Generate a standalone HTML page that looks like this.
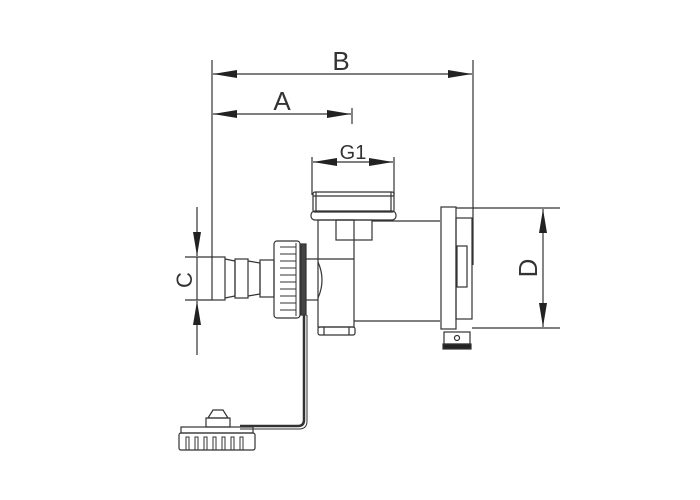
<!DOCTYPE html>
<html><head><style>html,body{margin:0;padding:0;background:#fff;width:700px;height:500px;overflow:hidden}</style></head>
<body>
<svg width="700" height="500" viewBox="0 0 700 500" xmlns="http://www.w3.org/2000/svg" fill="none" stroke="#333" stroke-width="1.2">
<defs>
<marker id="ar" viewBox="0 0 24 8" refX="24" refY="4" markerWidth="24" markerHeight="8" markerUnits="userSpaceOnUse" orient="auto-start-reverse"><path d="M0,0 L24,4 L0,8z" fill="#222" stroke="none"/></marker>
</defs>
<!-- extension lines -->
<line x1="212" y1="60" x2="212" y2="258"/>
<line x1="473" y1="60" x2="473" y2="265"/>
<line x1="312" y1="157" x2="312" y2="195"/>
<line x1="394" y1="157" x2="394" y2="195"/>
<line x1="352" y1="108" x2="352" y2="124"/>
<!-- dims -->
<line x1="213" y1="74" x2="472" y2="74" marker-start="url(#ar)" marker-end="url(#ar)"/>
<line x1="213" y1="114" x2="351" y2="114" marker-start="url(#ar)" marker-end="url(#ar)"/>
<line x1="313" y1="162" x2="393" y2="162" marker-start="url(#ar)" marker-end="url(#ar)"/>
<g font-family="Liberation Sans, sans-serif" fill="#333" stroke="none">
<text x="341" y="70" font-size="26" text-anchor="middle">B</text>
<text x="282" y="110" font-size="26" text-anchor="middle">A</text>
<text x="353" y="159" font-size="20" text-anchor="middle">G1</text>
<text transform="translate(537,268) rotate(-90)" font-size="26" text-anchor="middle">D</text>
<text transform="translate(192,280) rotate(-90)" font-size="22" text-anchor="middle">C</text>
</g>
<!-- D dim -->
<line x1="456" y1="208" x2="560" y2="208"/>
<line x1="472" y1="328" x2="560" y2="328"/>
<line x1="543" y1="209" x2="543" y2="327" marker-start="url(#ar)" marker-end="url(#ar)"/>
<!-- C dim -->
<line x1="185" y1="257" x2="212" y2="257"/>
<line x1="185" y1="300" x2="212" y2="300"/>
<line x1="197" y1="207" x2="197" y2="256" marker-end="url(#ar)"/>
<line x1="197" y1="355" x2="197" y2="301" marker-end="url(#ar)"/>
<line x1="197" y1="257" x2="197" y2="300"/>
<!-- top nut G1 -->
<rect x="313" y="192" width="81" height="20" rx="2"/>
<line x1="313" y1="196" x2="394" y2="196"/>
<line x1="316" y1="192" x2="316" y2="212"/><line x1="391" y1="192" x2="391" y2="212"/>
<rect x="311" y="211" width="85" height="9" rx="4"/>
<!-- stem -->
<rect x="318" y="220" width="36" height="107"/>
<rect x="336" y="220" width="36" height="20"/>
<line x1="306" y1="259" x2="354" y2="259"/>
<line x1="306" y1="300" x2="318" y2="300"/>
<path d="M318,262 Q326,280 318,298"/>
<rect x="318" y="327" width="37" height="8" rx="2"/>
<line x1="324" y1="327" x2="324" y2="335"/><line x1="349" y1="327" x2="349" y2="335"/>
<!-- motor body -->
<line x1="372" y1="221" x2="440" y2="221"/>
<line x1="354" y1="321" x2="440" y2="321"/>
<rect x="441" y="207" width="15" height="122"/>
<rect x="456" y="218" width="16" height="101"/>
<rect x="457" y="246" width="10" height="41"/>
<rect x="444" y="332" width="26" height="12"/>
<circle cx="457" cy="338" r="2.5"/>
<rect x="443" y="344" width="28" height="5" fill="#222"/>
<!-- hose barb -->
<rect x="212" y="257" width="13" height="43"/>
<path d="M225,259 L235,261 L235,296 L225,298"/>
<rect x="235" y="259" width="13" height="39"/>
<path d="M248,261 L260,263 L260,294 L248,296"/>
<rect x="260" y="260" width="14" height="37"/>
<!-- union nut -->
<rect x="274" y="241" width="26" height="77" rx="3"/>
<g stroke-width="1">
<line x1="280" y1="247" x2="296" y2="247"/><line x1="280" y1="254" x2="296" y2="254"/>
<line x1="280" y1="261" x2="296" y2="261"/><line x1="280" y1="268" x2="296" y2="268"/>
<line x1="280" y1="275" x2="296" y2="275"/><line x1="280" y1="282" x2="296" y2="282"/>
<line x1="280" y1="289" x2="296" y2="289"/><line x1="280" y1="296" x2="296" y2="296"/>
<line x1="280" y1="303" x2="296" y2="303"/><line x1="280" y1="310" x2="296" y2="310"/>
<line x1="296" y1="243" x2="296" y2="316"/>
</g>
<rect x="301" y="244" width="5" height="71" fill="#444"/>
<!-- wire -->
<path d="M304,315 L304,420 Q304,426 298,426 L240,426" stroke-width="2.5"/>
<path d="M307,315 L307,421 Q307,429 299,429 L240,429" stroke-width="1"/>
<!-- cap -->
<path d="M208,418 L213,410 L223,410 L228,418 Z"/>
<rect x="206" y="418" width="24" height="9"/>
<rect x="181" y="427" width="72" height="6"/>
<rect x="179" y="433" width="76" height="17" rx="2"/>
<g stroke-width="1">
<path d="M186,450 V437 h3 V450"/><path d="M195,450 V437 h3 V450"/><path d="M204,450 V437 h3 V450"/>
<path d="M213,450 V437 h3 V450"/><path d="M222,450 V437 h3 V450"/><path d="M231,450 V437 h3 V450"/>
<path d="M240,450 V437 h3 V450"/>
</g>
</svg>
</body></html>
